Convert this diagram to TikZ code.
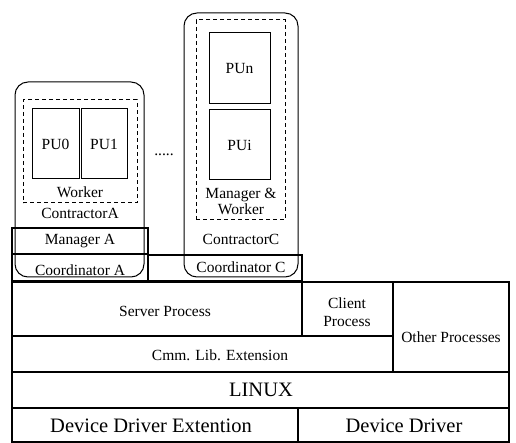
\documentclass[tikz,border=0pt]{standalone}
\usepackage{fontspec}
\setmainfont{Liberation Serif}
\begin{document}
\begin{tikzpicture}[x=1pt,y=-1pt,
  every node/.style={font=\fontsize{15.5}{17}\selectfont, inner sep=0pt, outer sep=0pt},
  cell/.style={draw, line width=1.1pt, anchor=north west},
  thickcell/.style={draw, line width=1.9pt, anchor=north west},
  contr/.style={draw, line width=1pt, rounded corners=13pt, anchor=north west},
  dbox/.style={draw, line width=1pt, dash pattern=on 4pt off 3pt, anchor=north west},
  pubox/.style={draw, line width=1pt, anchor=north west},
  big/.style={font=\fontsize{20.5}{22}\selectfont},
  txt/.style={align=center}]
\useasboundingbox (0,0) rectangle (516,443);

% Contractor A
\node[contr, minimum width=129pt, minimum height=195pt] (ca) at (15,82) {};
\node[dbox, minimum width=114pt, minimum height=103pt] (wa) at (23,100) {};
\node[pubox, minimum width=47pt, minimum height=70pt] (pu0) at (32,109) {};
\node[pubox, minimum width=46pt, minimum height=70pt] (pu1) at (81,109) {};
\node at (pu0.center) {PU0};
\node at (pu1.center) {PU1};
\node (worker) at (80,192) {Worker};
\node (cona) at (80,213) {ContractorA};

% dots
\node (dots) at (164,155) {.....};

% Contractor C
\node[contr, minimum width=114pt, minimum height=264pt] (cc) at (184,13) {};
\node[dbox, minimum width=89pt, minimum height=200pt] (wc) at (196,20) {};
\node[pubox, minimum width=61pt, minimum height=71pt] (pun) at (209,33) {};
\node[pubox, minimum width=61pt, minimum height=70pt] (pui) at (209,110) {};
\node at (pun.center) {PUn};
\node at (pui.center) {PUi};
\node[txt] (mw) at (241,201) {Manager \&\\[-1pt]Worker};
\node (conc) at (241,239) {ContractorC};

% Manager / Coordinator A
\node[thickcell, minimum width=136pt, minimum height=26pt] (mana) at (12,228) {};
\node[thickcell, minimum width=136pt, minimum height=27pt] (coa) at (12,254) {};
\node at (80,241) {Manager A};
\node at (80,270) {Coordinator A};

% Coordinator C
\node[draw, line width=1.3pt, anchor=north west, minimum width=154pt, minimum height=26pt] (coc) at (148,255) {};
\node at (241,267) {Coordinator C};

% OS layers
\node[cell, minimum width=290pt, minimum height=54pt] (srv) at (12,282) {};
\node[cell, minimum width=91pt, minimum height=54pt] (cli) at (302,282) {};
\node[cell, minimum width=116pt, minimum height=90pt] (oth) at (393,282) {};
\node[cell, minimum width=381pt, minimum height=36pt] (cmm) at (12,336) {};
\node[cell, minimum width=497pt, minimum height=36pt] (lin) at (12,372) {};
\node[cell, minimum width=286pt, minimum height=34pt] (dde) at (12,408) {};
\node[cell, minimum width=211pt, minimum height=34pt] (dd) at (298,408) {};

\node at (165,311) {Server Process};
\node[txt] at (347,312) {Client\\[1pt]Process};
\node at (451,337) {Other Processes};
\node at (220,355) {Cmm. Lib. Extension};
\node[big] at (261,390) {LINUX};
\node[big] at (151,426) {Device Driver Extention};
\node[big] at (404,426) {Device Driver};

% thick outlines
\draw[line width=1.9pt] (srv.north west) -| (dd.south east) -| cycle;
\draw[line width=1.7pt] (lin.north west) -- (lin.north east);
\draw[line width=1.7pt] (lin.south west) -- (lin.south east);
\draw[line width=1.5pt] (dd.north west) -- (dd.south west);
\end{tikzpicture}
\end{document}
